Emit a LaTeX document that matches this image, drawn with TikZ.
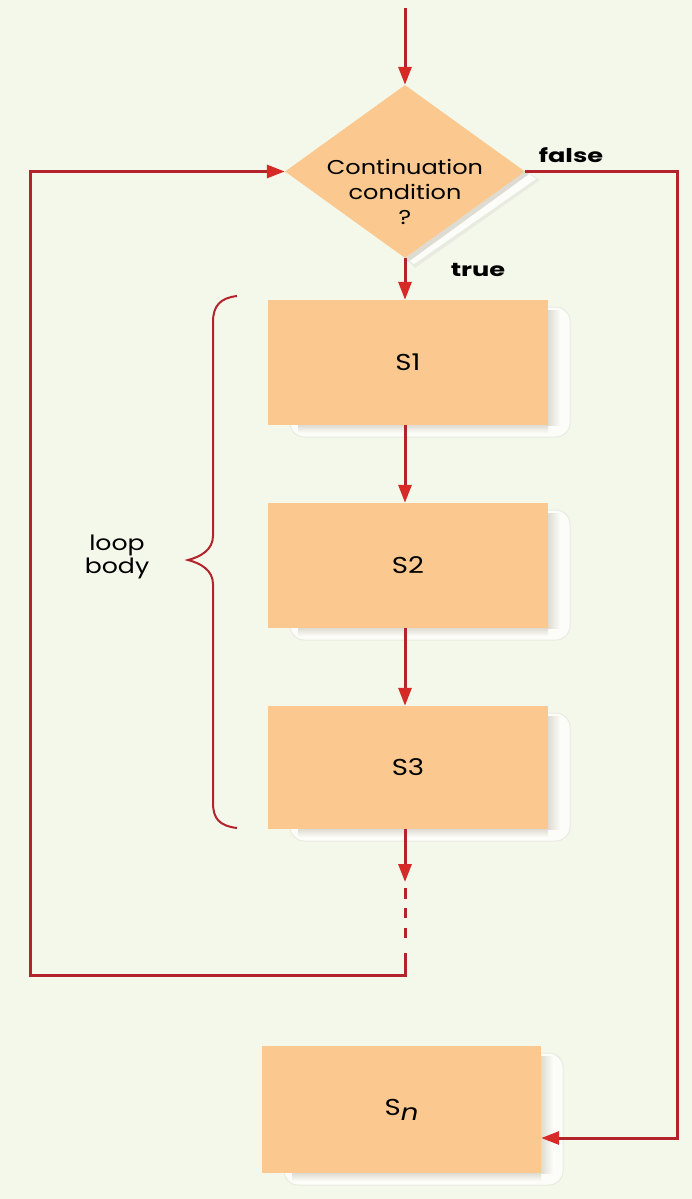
\documentclass[tikz,border=0pt]{standalone}
\usepackage{fontspec}
\usepackage{graphicx}
\setmainfont{Poppins}
\usetikzlibrary{arrows.meta,shapes.geometric,calc}
\definecolor{bg}{HTML}{F4F8EA}
\definecolor{peach}{HTML}{FBC98F}
\definecolor{lred}{HTML}{B3232C}
\definecolor{ared}{HTML}{D62A27}
\definecolor{shadowgray}{HTML}{DEDCD2}
\definecolor{shadowedge}{HTML}{E9EBE1}
\definecolor{shadowfill}{HTML}{FCFCF9}
\newcommand{\wide}[1]{\scalebox{1.2}[1]{#1}}
\newcommand{\bwide}[1]{\scalebox{1.35}[1]{#1}}
\newcommand{\myshadow}[4]{%
  \fill[shadowfill,draw=shadowedge,line width=1pt,rounded corners=14pt] (#1+22,#2+7) rectangle (#3+22,#4+12);
  \shade[left color=shadowgray,right color=shadowfill] (#3,#2+10) rectangle (#3+12,#4);
  \shade[top color=shadowgray,bottom color=shadowfill] (#1+30,#4) rectangle (#3,#4+8);
}
\tikzset{
  box/.style={draw=none,fill=peach,minimum width=280pt,minimum height=125pt,inner sep=0pt,font=\fontsize{23}{26}\selectfont},
  flow/.style={draw=lred,line width=3pt},
  arr/.style={flow,-{Triangle[length=18pt,width=13pt,color=ared]}},
  lbl/.style={font=\fontsize{20}{25}\selectfont,align=center,inner sep=0pt},
  blbl/.style={font=\fontsize{19}{22}\selectfont\bfseries,inner sep=0pt}
}
\begin{document}
\begin{tikzpicture}[x=1pt,y=-1pt]
\fill[bg] (0,0) rectangle (692,1199);
\useasboundingbox (0,0) rectangle (692,1199);
% shadows
\myshadow{268}{300}{548}{425}
\myshadow{268}{503}{548}{628}
\myshadow{268}{706}{548}{829}
\myshadow{262}{1046}{541}{1173}
\fill[shadowedge] (525,171) -- (540,180) -- (415,268) -- (405,258) -- cycle;
\fill[shadowfill] (525,171) -- (536,179) -- (414,264) -- (405,258) -- cycle;
\fill[shadowgray] (525,171) -- (529,174) -- (408,262) -- (405,258) -- cycle;
% nodes
\node[diamond,fill=peach,minimum width=240pt,minimum height=173pt,inner sep=0pt] (cond) at (405,171.5) {};
\node[lbl] (condtext) at (405,192) {\wide{Continuation}\\\wide{condition}\\\wide{?}};
\node[box] (S1) at (408,362.5) {\wide{S1}};
\node[box] (S2) at (408,565.5) {\wide{S2}};
\node[box,minimum height=123pt] (S3) at (408,767.5) {\wide{S3}};
\node[box,minimum width=279pt,minimum height=127pt] (Sn) at (401.5,1109.5) {\wide{S\raisebox{-0.4ex}{\textit{n}}}};
\node[blbl] (false) at (571,155) {\bwide{false}};
\node[blbl] (true) at (478,270) {\bwide{true}};
\node[lbl,font=\fontsize{21}{23}\selectfont] (loop) at (117,557) {\wide{loop}\\\wide{body}};
% coordinates
\coordinate (top) at (405,8);
\coordinate (d1) at (405,882);
\coordinate (d2) at (405,888);
\coordinate (d3) at (405,942);
\coordinate (r1) at (405,953);
\coordinate (r2) at (405,975);
\coordinate (l1) at (30,975);
\coordinate (f2) at (677,1138);
% connectors
\draw[arr] (top) -- (cond.north);
\draw[arr] (cond.south) -- (cond.south |- S1.north);
\draw[arr] (cond.south |- S1.south) -- (cond.south |- S2.north);
\draw[arr] (cond.south |- S2.south) -- (cond.south |- S3.north);
\draw[arr] (cond.south |- S3.south) -- (d1);
\draw[flow,dash pattern=on 10.5pt off 9.25pt] (d2) -- (d3);
\draw[arr] (r1) -- (r2) -- (l1) |- (cond.west);
\draw[arr] (cond.east) -| (f2) -- (Sn.east |- f2);
% brace
\draw[lred,line width=2pt] (237,296) .. controls (220,298) and (213,306) .. (213,322)
  -- (213,536) .. controls (213,550) and (200,557) .. (188,560)
  .. controls (200,563) and (213,570) .. (213,584)
  -- (213,803) .. controls (213,819) and (220,826) .. (237,828);
\end{tikzpicture}
\end{document}
